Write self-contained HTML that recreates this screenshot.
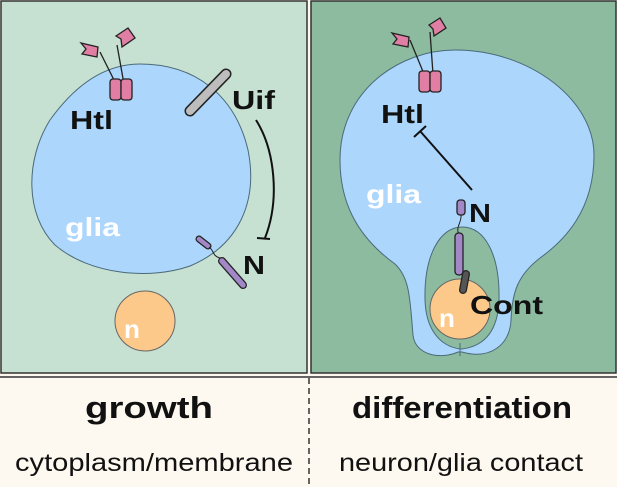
<!DOCTYPE html>
<html><head><style>
body{margin:0;width:617px;height:487px;overflow:hidden;background:#fdf9f0}
svg{display:block}
</style></head><body>
<svg width="617" height="487" viewBox="0 0 617 487" xmlns="http://www.w3.org/2000/svg" font-family="'Liberation Sans',sans-serif">
<rect x="0" y="0" width="617" height="487" fill="#fdf9f0"/>
<rect x="1" y="1" width="306" height="372" fill="#c6e0d1" stroke="#333" stroke-width="1.5"/>
<rect x="311" y="1" width="305" height="372" fill="#8cbb9f" stroke="#333" stroke-width="1.5"/>
<line x1="0" y1="377" x2="617" y2="377" stroke="#333" stroke-width="1.5"/>
<line x1="309" y1="378" x2="309" y2="487" stroke="#333" stroke-width="1.5" stroke-dasharray="6,4"/>

<path d="M140,64 C195,64 235,95 248,150 C258,200 240,245 190,266 C150,280 90,275 55,245 C25,215 25,160 50,120 C75,85 105,64 140,64 Z" fill="#acd6fb" stroke="#4a6a7a" stroke-width="1"/>
<g stroke="#222" stroke-width="1.3" fill="#e07fa3">
<line x1="100" y1="52" x2="116" y2="84"/><line x1="117" y1="45" x2="124" y2="84"/>
<path d="M81,43 L98,47 L97,57 L82,54 L86,49 Z"/>
<path d="M116,36 L128,28 L135,38 L122,47 L121,39 Z"/>
<rect x="110" y="79" width="11" height="21" rx="3"/>
<rect x="121" y="79" width="11" height="21" rx="3"/>
</g>
<text x="70" y="129" font-size="26" font-weight="bold" fill="#111" textLength="43" lengthAdjust="spacingAndGlyphs">Htl</text>
<line x1="190" y1="111" x2="226" y2="74" stroke="#222" stroke-width="11" stroke-linecap="round"/>
<line x1="190" y1="111" x2="226" y2="74" stroke="#bdbdbd" stroke-width="8" stroke-linecap="round"/>
<text x="232" y="109" font-size="26" font-weight="bold" fill="#111" textLength="43" lengthAdjust="spacingAndGlyphs">Uif</text>
<path d="M256,120 C275,150 280,200 265,238" fill="none" stroke="#111" stroke-width="2"/>
<line x1="257" y1="238" x2="270" y2="239" stroke="#111" stroke-width="2"/>
<line x1="199" y1="239" x2="208" y2="246" stroke="#222" stroke-width="7" stroke-linecap="round"/>
<line x1="199" y1="239" x2="208" y2="246" stroke="#a388c8" stroke-width="4.5" stroke-linecap="round"/>
<path d="M209,247 C214,250 212,256 220,258" fill="none" stroke="#222" stroke-width="1"/>
<line x1="222" y1="261" x2="243" y2="285" stroke="#222" stroke-width="8" stroke-linecap="round"/>
<line x1="222" y1="261" x2="243" y2="285" stroke="#a388c8" stroke-width="5.5" stroke-linecap="round"/>
<text x="243" y="274" font-size="26" font-weight="bold" fill="#111" textLength="22" lengthAdjust="spacingAndGlyphs">N</text>
<text x="65" y="236" font-size="26" font-weight="bold" fill="#fff" textLength="55" lengthAdjust="spacingAndGlyphs">glia</text>
<circle cx="145" cy="321" r="30" fill="#fdc98b" stroke="#666" stroke-width="1"/>
<text x="124" y="338" font-size="26" font-weight="bold" fill="#fff">n</text>

<path d="M458,352 C440,360 415,355 413,335 C410,300 410,278 395,264 C355,235 340,200 340,160 C340,90 400,50 455,50 C530,50 594,100 594,155 C594,210 565,240 540,258 C518,275 512,292 511,320 C510,345 490,360 462,352 Z" fill="#acd6fb" stroke="#4a6a7a" stroke-width="1"/>
<path d="M460,349 C440,346 426,330 425,300 C424,255 440,227 462,227 C485,227 500,255 499,300 C498,330 485,346 462,349 Z" fill="#8cbb9f" stroke="#4a6a7a" stroke-width="1"/>
<line x1="460" y1="343" x2="460" y2="356" stroke="#4a6a7a" stroke-width="1"/>
<circle cx="460" cy="309" r="30" fill="#fdc98b" stroke="#666" stroke-width="1"/>
<text x="439" y="327" font-size="26" font-weight="bold" fill="#fff">n</text>
<g stroke="#222" stroke-width="1.3" fill="#e07fa3">
<line x1="410" y1="40" x2="424" y2="74"/><line x1="430" y1="32" x2="433" y2="74"/>
<path d="M392,33 L409,37 L408,47 L393,44 L397,39 Z"/>
<path d="M429,25 L440,18 L446,28 L434,36 L433,29 Z"/>
<rect x="419" y="71" width="11" height="21" rx="3"/>
<rect x="430" y="71" width="11" height="21" rx="3"/>
</g>
<text x="381" y="123" font-size="26" font-weight="bold" fill="#111" textLength="43" lengthAdjust="spacingAndGlyphs">Htl</text>
<line x1="472" y1="190" x2="420" y2="131" stroke="#111" stroke-width="2"/>
<line x1="414" y1="137" x2="426" y2="126" stroke="#111" stroke-width="2"/>
<text x="366" y="203" font-size="26" font-weight="bold" fill="#fff" textLength="55" lengthAdjust="spacingAndGlyphs">glia</text>
<rect x="457" y="200" width="8" height="15" rx="3" fill="#a388c8" stroke="#222" stroke-width="1.3"/>
<path d="M461,215 C462,222 455,228 459,234" fill="none" stroke="#222" stroke-width="1"/>
<rect x="455" y="233" width="8" height="42" rx="3.5" fill="#a388c8" stroke="#222" stroke-width="1.3"/>
<line x1="466" y1="274" x2="463" y2="290" stroke="#222" stroke-width="8" stroke-linecap="round"/>
<line x1="466" y1="274" x2="463" y2="290" stroke="#555" stroke-width="5.5" stroke-linecap="round"/>
<text x="469" y="222" font-size="26" font-weight="bold" fill="#111" textLength="22" lengthAdjust="spacingAndGlyphs">N</text>
<text x="470" y="314" font-size="26" font-weight="bold" fill="#111" textLength="73" lengthAdjust="spacingAndGlyphs">Cont</text>

<text x="85" y="418" font-size="31" font-weight="bold" fill="#111" textLength="128" lengthAdjust="spacingAndGlyphs">growth</text>
<text x="15" y="471" font-size="25" fill="#111" textLength="278" lengthAdjust="spacingAndGlyphs">cytoplasm/membrane</text>
<text x="352" y="418" font-size="31" font-weight="bold" fill="#111" textLength="220" lengthAdjust="spacingAndGlyphs">differentiation</text>
<text x="339" y="471" font-size="25" fill="#111" textLength="244" lengthAdjust="spacingAndGlyphs">neuron/glia contact</text>
</svg>
</body></html>
